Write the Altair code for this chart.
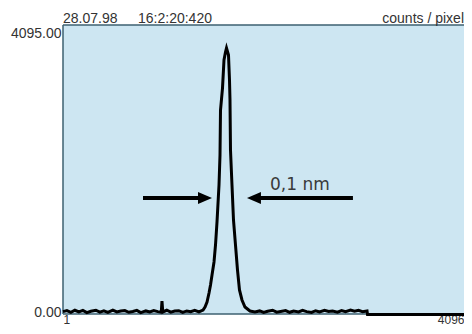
import altair as alt
import pandas as pd

# ---- data ----
base_left_x = [1, 40, 80, 120, 160, 200, 240, 280, 330, 370, 410, 450, 500, 540, 580,
               620, 660, 700, 740, 780, 830, 870, 910, 950, 985, 992, 1000, 1040, 1080,
               1120, 1160, 1200, 1240, 1280, 1320, 1362]
base_left_y = [20, 35, 10, 40, 15, 38, 5, 25, 40, 12, 30, 8, 42, 15, 28, 35, 10, 22, 38,
               6, 30, 14, 36, 20, 10, 176, 15, 40, 12, 28, 34, 8, 30, 18, 38, 15]

peak_x = [1403, 1423, 1443, 1463, 1478, 1493, 1513, 1528, 1543, 1563, 1573, 1578, 1598,
          1613, 1628, 1638, 1658, 1668, 1673, 1678, 1693, 1708, 1728, 1748, 1768, 1793,
          1823, 1873]
peak_y = [44, 88, 161, 294, 411, 558, 749, 998, 1336, 1879, 2319, 2979, 3302, 3713, 3831,
          3889, 3787, 3420, 3126, 2392, 1879, 1365, 998, 631, 338, 191, 88, 29]

base_right_x = [1923, 1970, 2010, 2050, 2100, 2140, 2180, 2230, 2270, 2310, 2360, 2400,
                2440, 2490, 2530, 2570, 2620, 2660, 2700, 2750, 2790, 2830, 2880, 2920,
                2960, 3000, 3045]
base_right_y = [15, 30, 8, 25, 40, 12, 22, 35, 10, 28, 15, 38, 20, 8, 33, 14, 40, 22, 30,
                12, 36, 18, 42, 25, 38, 20, 30]

tail_x = [3050, 3500, 4096]
tail_y = [-22, -22, -22]

x_first, x_last = 1, 4096
y_ticks = [0, 4095]

header_date = "28.07.98"
header_time = "16:2:20:420"
header_units = "counts / pixel"
fwhm_label = "0,1 nm"

# arrows (data coordinates)
arrow_y = 1688
left_arrow = {"tail": 802, "shaft_end": 1430, "head": 1423}
right_arrow = {"tail": 2904, "shaft_end": 1905, "head": 1913}

spectrum = pd.DataFrame({
    "pixel": base_left_x + peak_x + base_right_x + tail_x,
    "counts": base_left_y + peak_y + base_right_y + tail_y,
})

# the visible window shows pixels 1 .. ~4016 (the right end of the original is cut off)
X_VISIBLE_END = 4016
xs = alt.Scale(domain=[x_first, X_VISIBLE_END], nice=False, zero=False)
ys = alt.Scale(domain=[-15, 4227], nice=False, zero=False)

FONT = "Liberation Sans"
W, H = 401, 289
BORDER = "#3d6170"

line = alt.Chart(spectrum).mark_line(color="black", strokeWidth=3, strokeJoin="miter").encode(
    x=alt.X("pixel:Q", scale=xs,
            axis=alt.Axis(values=[x_first, X_VISIBLE_END], title=None, grid=False, ticks=False,
                          domain=False, labelFlush=True, labelPadding=0, labelFontSize=12,
                          labelFont=FONT, labelColor="#333333", labelBaseline="top",
                          labelExpr=f"datum.value > 2000 ? '{x_last}' : '{x_first}'")),
    y=alt.Y("counts:Q", scale=ys,
            axis=alt.Axis(values=y_ticks, title=None, grid=False, ticks=False, domain=False,
                          format=".2f", labelFlush=False, labelPadding=2, labelFontSize=14,
                          labelFont=FONT, labelColor="#333333", labelBaseline="middle")),
)

# plot frame (left, top, bottom)
frame_df = pd.DataFrame({"k": ["frame"]})
top_b = alt.Chart(frame_df).mark_rule(color=BORDER, strokeWidth=1.5).encode(
    x=alt.value(0), x2=alt.value(W), y=alt.value(0))
bot_b = alt.Chart(frame_df).mark_rule(color=BORDER, strokeWidth=1.5).encode(
    x=alt.value(0), x2=alt.value(W), y=alt.value(H))
left_b = alt.Chart(frame_df).mark_rule(color=BORDER, strokeWidth=1.5).encode(
    x=alt.value(0), y=alt.value(0), y2=alt.value(H))

arrows_df = pd.DataFrame({
    "x1": [left_arrow["tail"], right_arrow["tail"]],
    "x2": [left_arrow["shaft_end"], right_arrow["shaft_end"]],
    "head": [left_arrow["head"], right_arrow["head"]],
    "dir": ["right", "left"],
    "y": [arrow_y, arrow_y],
})

shafts = alt.Chart(arrows_df).mark_rule(color="black", strokeWidth=4).encode(
    x=alt.X("x1:Q", scale=xs), x2="x2:Q", y=alt.Y("y:Q", scale=ys))

head_r = alt.Chart(arrows_df[arrows_df["dir"] == "right"]).mark_point(
    shape="M-1,-0.85 L1,0 L-1,0.85 Z", size=196, filled=True, color="black", opacity=1
).encode(x=alt.X("head:Q", scale=xs), y=alt.Y("y:Q", scale=ys))

head_l = alt.Chart(arrows_df[arrows_df["dir"] == "left"]).mark_point(
    shape="M1,-0.85 L-1,0 L1,0.85 Z", size=196, filled=True, color="black", opacity=1
).encode(x=alt.X("head:Q", scale=xs), y=alt.Y("y:Q", scale=ys))

label_df = pd.DataFrame({"t": [fwhm_label]})
fwhm = alt.Chart(label_df).mark_text(
    font="DejaVu Sans", fontSize=17, color="#3a3a3a", align="left", baseline="alphabetic"
).encode(text="t:N", x=alt.value(207), y=alt.value(165))

hdr1 = alt.Chart(pd.DataFrame({"t": [header_date]})).mark_text(
    font=FONT, fontSize=14, color="#333333", align="left", baseline="alphabetic"
).encode(text="t:N", x=alt.value(0), y=alt.value(-2))

hdr2 = alt.Chart(pd.DataFrame({"t": [header_time]})).mark_text(
    font=FONT, fontSize=14, color="#333333", align="left", baseline="alphabetic"
).encode(text="t:N", x=alt.value(75), y=alt.value(-2))

hdr3 = alt.Chart(pd.DataFrame({"t": [header_units]})).mark_text(
    font=FONT, fontSize=14, color="#333333", align="right", baseline="alphabetic"
).encode(text="t:N", x=alt.value(W), y=alt.value(-2))

chart = alt.layer(line, top_b, bot_b, left_b, shafts, head_r, head_l, fwhm, hdr1, hdr2, hdr3).properties(
    width=W, height=H,
    autosize=alt.AutoSizeParams(type="none"),
    padding={"left": 55, "top": 17, "right": 0, "bottom": 12},
).configure(
    background="white"
).configure_view(
    fill="#cde6f2", stroke=None
)

# draw the frame first so the spectrum line sits on top of it
chart.layer = [top_b, bot_b, left_b, line, shafts, head_r, head_l, fwhm, hdr1, hdr2, hdr3]

chart.save("out.html", embed_options={"renderer": "svg", "actions": False})
